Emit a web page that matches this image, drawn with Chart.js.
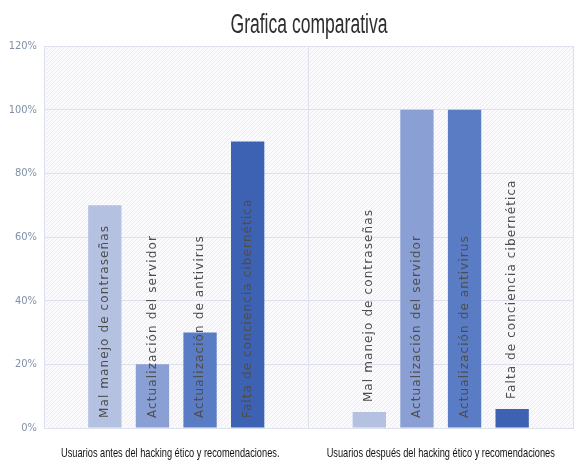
<!DOCTYPE html>
<html>
<head>
<meta charset="utf-8">
<script src="https://cdn.jsdelivr.net/npm/chart.js@4/dist/chart.umd.min.js"></script>
<style>
  html, body { margin: 0; padding: 0; background: #fff; overflow: hidden; }
  #wrap { width: 574px; height: 463px; position: relative; }
</style>
</head>
<body>
<div id="wrap"><canvas id="chart"></canvas></div>
<script>
const chartTitle = "Grafica comparativa";
const groups = ["Usuarios antes del hacking ético y recomendaciones.", "Usuarios después del hacking ético y recomendaciones"];
const seriesNames = ["Mal manejo de contraseñas", "Actualización del servidor", "Actualización de antivirus", "Falta de conciencia cibernética"];
const malManejo = [70, 5];
const servidor = [20, 100];
const antivirus = [30, 100];
const falta = [90, 6];
const yTicks = [0, 20, 40, 60, 80, 100, 120];

const colors = ["#b4c1e1", "#8aa0d4", "#5a7cc5", "#3d62b3"];

// draws text squeezed horizontally, like the narrow office font
function drawNarrow(ctx, text, cx, y, squeeze) {
  const w = ctx.measureText(text).width * squeeze;
  ctx.save();
  ctx.translate(cx - w / 2, y);
  ctx.scale(squeeze, 1);
  ctx.fillText(text, 0, 0);
  ctx.restore();
}

// faint diagonal hatch behind the plot area
const hatchPlugin = {
  id: "hatch",
  beforeDraw(chart) {
    const { ctx, chartArea: a } = chart;
    const p = document.createElement("canvas");
    p.width = 4; p.height = 4;
    const pc = p.getContext("2d");
    pc.fillStyle = "#fbfbfd";
    pc.fillRect(0, 0, 4, 4);
    pc.strokeStyle = "#eaecf3";
    pc.lineWidth = 1;
    pc.beginPath();
    pc.moveTo(0, 4); pc.lineTo(4, 0);
    pc.stroke();
    ctx.save();
    ctx.fillStyle = ctx.createPattern(p, "repeat");
    ctx.fillRect(a.left, a.top, a.right - a.left, a.bottom - a.top);
    ctx.restore();
  }
};

// title and category names
const textPlugin = {
  id: "texts",
  afterDraw(chart) {
    const { ctx, chartArea: a } = chart;
    const x = chart.scales.x;
    ctx.save();
    ctx.textAlign = "left";
    ctx.textBaseline = "alphabetic";
    ctx.fillStyle = "#2e2e2e";
    ctx.font = "27px 'Liberation Sans'";
    drawNarrow(ctx, chartTitle, 309, 33, 0.65);
    ctx.fillStyle = "#111";
    ctx.font = "13.5px 'Liberation Sans'";
    groups.forEach((g, i) => {
      drawNarrow(ctx, g, x.getPixelForValue(i) - (i === 0 ? 6 : 0), a.bottom + 29, 0.685);
    });
    ctx.restore();
  }
};

// rotated series names on each bar
const barLabels = {
  id: "barLabels",
  afterDatasetsDraw(chart) {
    const { ctx } = chart;
    const y = chart.scales.y;
    ctx.save();
    ctx.font = "12px 'DejaVu Sans'";
    ctx.letterSpacing = "1.1px";
    ctx.fillStyle = "#4d4d4d";
    ctx.textBaseline = "middle";
    ctx.textAlign = "left";
    chart.data.datasets.forEach((ds, i) => {
      chart.getDatasetMeta(i).data.forEach((bar, j) => {
        const v = ds.data[j];
        const start = v < 10 ? bar.y - 10 : y.getPixelForValue(0) - 10;
        ctx.save();
        ctx.translate(bar.x, start);
        ctx.rotate(-Math.PI / 2);
        ctx.fillText(ds.label, 0, 0);
        ctx.restore();
      });
    });
    ctx.restore();
  }
};

new Chart(document.getElementById("chart"), {
  type: "bar",
  data: {
    labels: groups,
    datasets: [
      { label: seriesNames[0], data: malManejo, backgroundColor: colors[0] },
      { label: seriesNames[1], data: servidor, backgroundColor: colors[1] },
      { label: seriesNames[2], data: antivirus, backgroundColor: colors[2] },
      { label: seriesNames[3], data: falta, backgroundColor: colors[3] }
    ]
  },
  options: {
    responsive: true,
    maintainAspectRatio: false,
    animation: false,
    layout: { padding: { top: 46, right: 1, left: 0, bottom: 0 } },
    datasets: { bar: { categoryPercentage: 0.72, barPercentage: 0.7 } },
    plugins: {
      legend: { display: false },
      tooltip: { enabled: false },
      title: { display: false }
    },
    scales: {
      x: {
        afterFit(axis) { axis.height = 35; },
        grid: { color: "#dde0ee", offset: true, drawTicks: false },
        border: { color: "#dde0ee" },
        ticks: { display: false, autoSkip: false }
      },
      y: {
        min: 0, max: 120,
        afterFit(axis) { axis.width = 44; },
        afterBuildTicks(axis) { axis.ticks = yTicks.map(v => ({ value: v })); },
        grid: { color: "#dde0ee", drawTicks: false },
        border: { display: false },
        ticks: {
          color: "#8090a8",
          padding: 7,
          callback: v => v + "%",
          font: { family: "'Liberation Sans Narrow', 'DejaVu Sans Condensed', sans-serif", size: 11 }
        }
      }
    }
  },
  plugins: [hatchPlugin, barLabels, textPlugin]
});
</script>
</body>
</html>
